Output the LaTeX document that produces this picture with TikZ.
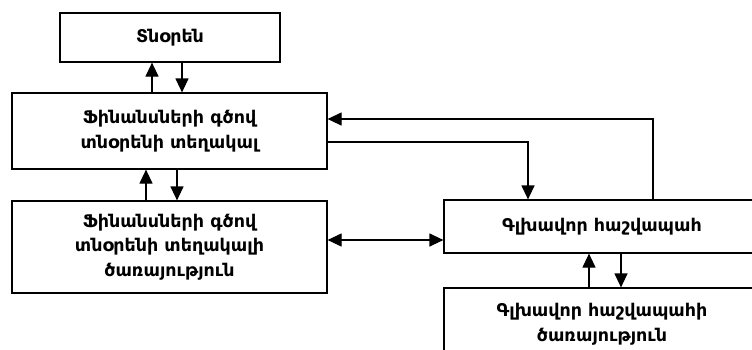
\documentclass[tikz,border=0pt]{standalone}
\usepackage{fontspec}
\setmainfont{DejaVu Sans}
\usetikzlibrary{arrows.meta}

\tikzset{
  box/.style={draw, line width=1.2pt, align=center, inner sep=0pt,
    font=\bfseries\fontsize{17.5}{24.5}\selectfont},
  arr/.style={line width=1.2pt, -{Triangle[length=14pt,width=13pt]}},
  dblarr/.style={line width=1.2pt, {Triangle[length=14pt,width=13pt]}-{Triangle[length=14pt,width=13pt]}}
}

\begin{document}
\begin{tikzpicture}[x=1pt,y=-1pt]
  \useasboundingbox (0,0) rectangle (752,349);
  \clip (0,0) rectangle (752,349);

  % Boxes
  \node[box, minimum width=220pt, minimum height=49pt] (dir) at (170,37.5) {Տնօրեն};
  \node[box, minimum width=315pt, minimum height=76pt] (dep) at (169.5,131) {Ֆինանսների գծով\\ տնօրենի տեղակալ};
  \node[box, minimum width=315pt, minimum height=92pt] (depServ) at (169.5,247) {Ֆինանսների գծով\\ տնօրենի տեղակալի\\ ծառայություն};
  \node[box, minimum width=316pt, minimum height=53pt] (chief) at (602,226.5) {Գլխավոր հաշվապահ};
  \node[box, minimum width=316pt, minimum height=72pt] (chiefServ) at (602,324) {Գլխավոր հաշվապահի\\ ծառայություն};

  % Tnoren <-> tegakal
  \draw[arr] ([xshift=-17.5pt]dep.north) -- ([xshift=-18pt]dir.south);
  \draw[arr] ([xshift=12pt]dir.south) -- ([xshift=12.5pt]dep.north);

  % Tegakal <-> tsarayutyun
  \draw[arr] ([xshift=-23.5pt]depServ.north) -- ([xshift=-23.5pt]dep.south);
  \draw[arr] ([xshift=7.5pt]dep.south) -- ([xshift=7.5pt]depServ.north);

  % Tegakal <-> hashvapah
  \draw[arr] ([xshift=51pt]chief.north) |- ([yshift=12pt]dep.east);
  \draw[arr] ([yshift=-11pt]dep.east) -| ([xshift=-74pt]chief.north);

  % Tsarayutyun <-> hashvapah
  \draw[dblarr] ([yshift=7pt]depServ.east) -- ([yshift=-13.5pt]chief.west);

  % Hashvapah <-> tsarayutyun
  \draw[arr] ([xshift=-13pt]chiefServ.north) -- ([xshift=-13pt]chief.south);
  \draw[arr] ([xshift=19pt]chief.south) -- ([xshift=19pt]chiefServ.north);
\end{tikzpicture}
\end{document}
